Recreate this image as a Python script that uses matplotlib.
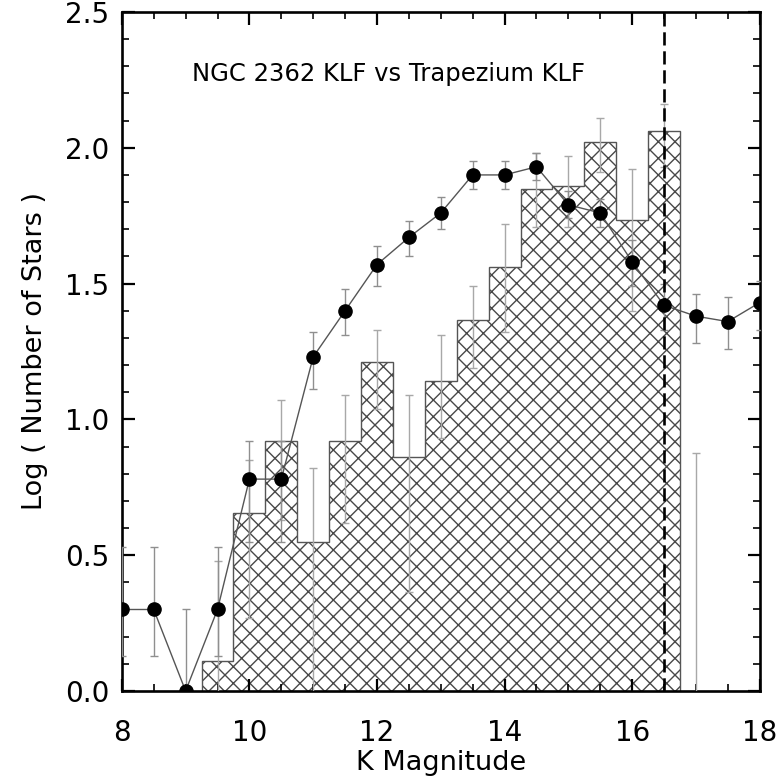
import numpy as np
import matplotlib
matplotlib.use("Agg")
import matplotlib.pyplot as plt
from matplotlib.ticker import MultipleLocator

# Trapezium KLF (filled points) with asymmetric error-bar ends
mag = [8.0, 8.5, 9.0, 9.5, 10.0, 10.5, 11.0, 11.5, 12.0, 12.5, 13.0,
       13.5, 14.0, 14.5, 15.0, 15.5, 16.0, 16.5, 17.0, 17.5, 18.0]
trap_log_n = [0.30, 0.30, 0.00, 0.30, 0.78, 0.78, 1.23, 1.40, 1.57, 1.67, 1.76,
              1.90, 1.90, 1.93, 1.79, 1.76, 1.58, 1.42, 1.38, 1.36, 1.43]
trap_err_low = [0.13, 0.13, 0.00, 0.13, 0.55, 0.55, 1.11, 1.31, 1.49, 1.60, 1.70,
                1.85, 1.85, 1.88, 1.74, 1.71, 1.49, 1.33, 1.28, 1.26, 1.33]
trap_err_high = [0.53, 0.53, 0.30, 0.53, 0.92, 0.92, 1.32, 1.48, 1.64, 1.73, 1.82,
                 1.95, 1.95, 1.98, 1.84, 1.81, 1.66, 1.50, 1.46, 1.45, 1.51]

# NGC 2362 KLF histogram (0.5 mag bins)
bin_edges = [9.25, 9.75, 10.25, 10.75, 11.25, 11.75, 12.25, 12.75, 13.25,
             13.75, 14.25, 14.75, 15.25, 15.75, 16.25, 16.75]
ngc_log_n = [0.11, 0.655, 0.92, 0.55, 0.92, 1.21, 0.86, 1.14, 1.365,
             1.56, 1.85, 1.86, 2.02, 1.735, 2.06]

# NGC 2362 error bars (bin centres, lower and upper ends)
ngc_err_mag = [9.5, 10.0, 10.5, 11.0, 11.5, 12.0, 12.5, 13.0, 13.5,
               14.0, 14.5, 15.0, 15.5, 16.0, 16.5, 17.0]
ngc_err_low = [0.00, 0.27, 0.63, 0.00, 0.62, 1.04, 0.365, 0.93, 1.19,
               1.32, 1.71, 1.71, 1.91, 1.40, 1.93, 0.00]
ngc_err_high = [0.48, 0.85, 1.07, 0.82, 1.09, 1.33, 1.09, 1.31, 1.49,
                1.72, 1.98, 1.97, 2.11, 1.92, 2.16, 0.875]

completeness_limit = 16.5
title_text = "NGC 2362 KLF vs Trapezium KLF"

plt.rcParams["font.family"] = ["DejaVu Sans"]
plt.rcParams["hatch.linewidth"] = 1.0

fig = plt.figure(figsize=(7.76, 7.82), dpi=100)
ax = fig.add_axes([0.157, 0.1164, 0.822, 0.8683])

# hatched histogram fill and its outline
ax.stairs(ngc_log_n, bin_edges, baseline=0, fill=True, facecolor="white",
          edgecolor="#484848", hatch="xx", linewidth=0, zorder=1)
ax.stairs(ngc_log_n, bin_edges, baseline=0, fill=False,
          edgecolor="#555555", linewidth=1.0, zorder=2)

# histogram error bars
hx = np.array(ngc_err_mag)
hlo = np.array(ngc_err_low)
hhi = np.array(ngc_err_high)
ax.vlines(hx, hlo, hhi, color="#a8a8a8", linewidth=1.0, zorder=3)
ax.plot(hx, hhi, linestyle="none", marker="_", markersize=6,
        markeredgewidth=1.0, color="#a8a8a8", zorder=3)
ax.plot(hx[hlo > 0], hlo[hlo > 0], linestyle="none", marker="_", markersize=6,
        markeredgewidth=1.0, color="#a8a8a8", zorder=3)

# Trapezium points with error bars
tx = np.array(mag)
ty = np.array(trap_log_n)
tlo = np.array(trap_err_low)
thi = np.array(trap_err_high)
ax.vlines(tx, tlo, thi, color="#8f8f8f", linewidth=1.0, zorder=4)
ax.plot(tx, thi, linestyle="none", marker="_", markersize=6,
        markeredgewidth=1.0, color="#8f8f8f", zorder=4)
ax.plot(tx[tlo > 0], tlo[tlo > 0], linestyle="none", marker="_", markersize=6,
        markeredgewidth=1.0, color="#8f8f8f", zorder=4)
ax.plot(tx, ty, color="#555555", linewidth=1.0, zorder=5)
ax.plot(tx, ty, linestyle="none", marker="o", markersize=9.5,
        color="black", zorder=6)

# completeness limit
ax.axvline(completeness_limit, color="black", linewidth=1.9,
           dashes=(5, 2.2), zorder=7)

ax.text(9.1, 2.27, title_text, fontsize=17.5, va="center", ha="left")

ax.set_xlim(8, 18)
ax.set_ylim(0, 2.5)
ax.xaxis.set_major_locator(MultipleLocator(2))
ax.xaxis.set_minor_locator(MultipleLocator(0.5))
ax.yaxis.set_major_locator(MultipleLocator(0.5))
ax.yaxis.set_minor_locator(MultipleLocator(0.1))
ax.xaxis.set_major_formatter(plt.FormatStrFormatter("%d"))
ax.yaxis.set_major_formatter(plt.FormatStrFormatter("%.1f"))

ax.tick_params(which="both", direction="in", top=True, right=True,
               labelsize=20, color="black")
ax.tick_params(which="major", length=9, width=1.6)
ax.tick_params(which="minor", length=5, width=1.2)
ax.tick_params(axis="x", which="major", pad=20)
ax.tick_params(axis="y", which="major", pad=9)
for s in ax.spines.values():
    s.set_linewidth(1.9)

ax.set_xlabel("K Magnitude", fontsize=19.5, labelpad=2)
ax.set_ylabel("Log ( Number of Stars )", fontsize=19.5, labelpad=12)

fig.savefig("out.png", dpi=100)
